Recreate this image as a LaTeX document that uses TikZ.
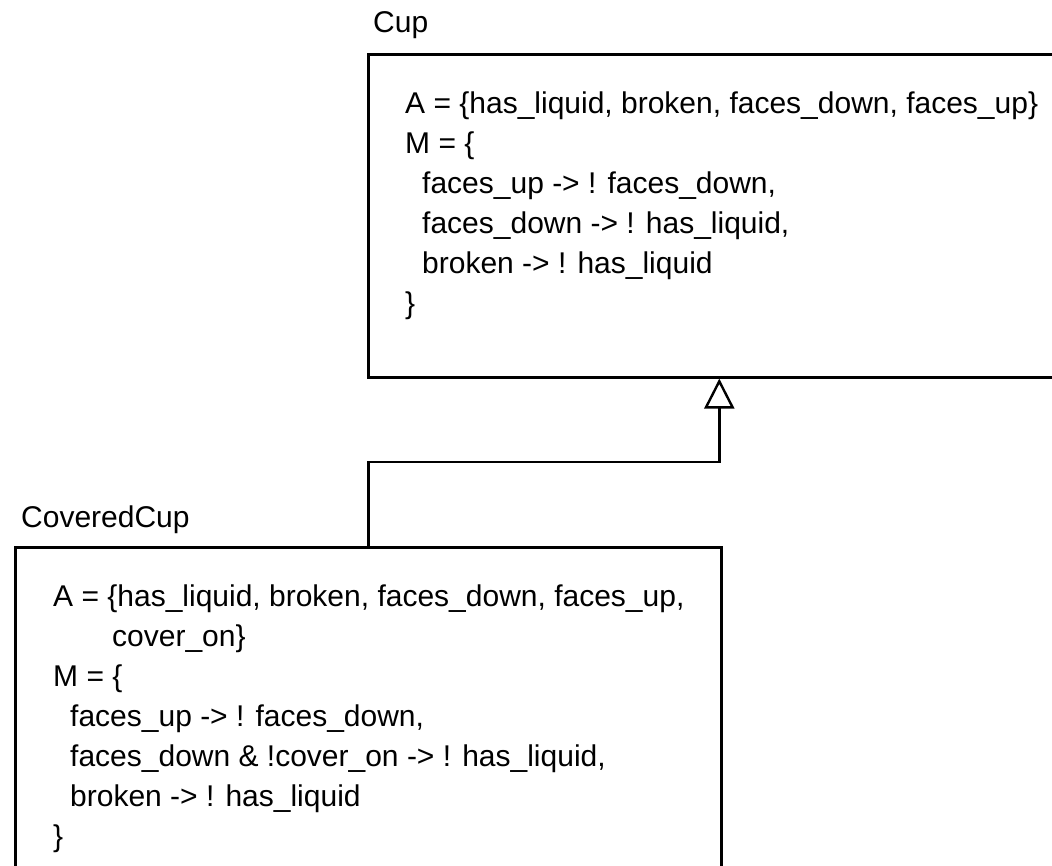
\documentclass[tikz,border=0pt]{standalone}
\usepackage{fontspec}
\setmainfont{Liberation Sans}
\usetikzlibrary{arrows.meta,positioning}

\newcommand\memindent{\hspace*{17pt}}

\begin{document}
\begin{tikzpicture}[
  x=1pt, y=1pt,
  classbox/.style={draw, line width=2.6pt, anchor=north west, inner sep=0pt},
  classname/.style={anchor=base west, inner sep=0pt, font=\fontsize{30}{40}\selectfont},
  members/.style={anchor=base west, inner sep=0pt, align=left,
                  font=\fontsize{30}{40}\selectfont},
  inherit/.style={-{Triangle[open, length=30pt, width=30pt, line width=2.4pt]},
                  line width=2.4pt}
]
\useasboundingbox (0,0) rectangle (1052,-865);

% parent class
\node[classbox, minimum width=702pt, minimum height=323pt] (cup) at (367,-53) {};
\node[classname] (cuplabel) at ([xshift=6pt, yshift=21pt]cup.north west) {Cup};
% members, anchored at the baseline of the last line
\node[members] (cupbody) at ([xshift=38pt, yshift=-260pt]cup.north west)
  {A = \{has\_liquid, broken, faces\_down, faces\_up\}\\
   M = \{\\
   \memindent faces\_up -> ! faces\_down,\\
   \memindent faces\_down -> ! has\_liquid,\\
   \memindent broken -> ! has\_liquid\\
   \}};

% child class
\node[classbox, minimum width=706pt, minimum height=400pt] (covered) at (14,-546) {};
\node[classname] (coveredlabel) at ([xshift=7pt, yshift=19pt]covered.north west) {CoveredCup};
\node[members] (coveredbody) at ([xshift=39pt, yshift=-300pt]covered.north west)
  {A = \{has\_liquid, broken, faces\_down, faces\_up,\\
   \hspace*{59pt}cover\_on\}\\
   M = \{\\
   \memindent faces\_up -> ! faces\_down,\\
   \memindent faces\_down \& !cover\_on -> ! has\_liquid,\\
   \memindent broken -> ! has\_liquid\\
   \}};

% generalisation
\coordinate (elbow) at ([yshift=84pt]covered.north);
\draw[inherit] (covered.north) -- (elbow) -| (cup.south);
\end{tikzpicture}
\end{document}
